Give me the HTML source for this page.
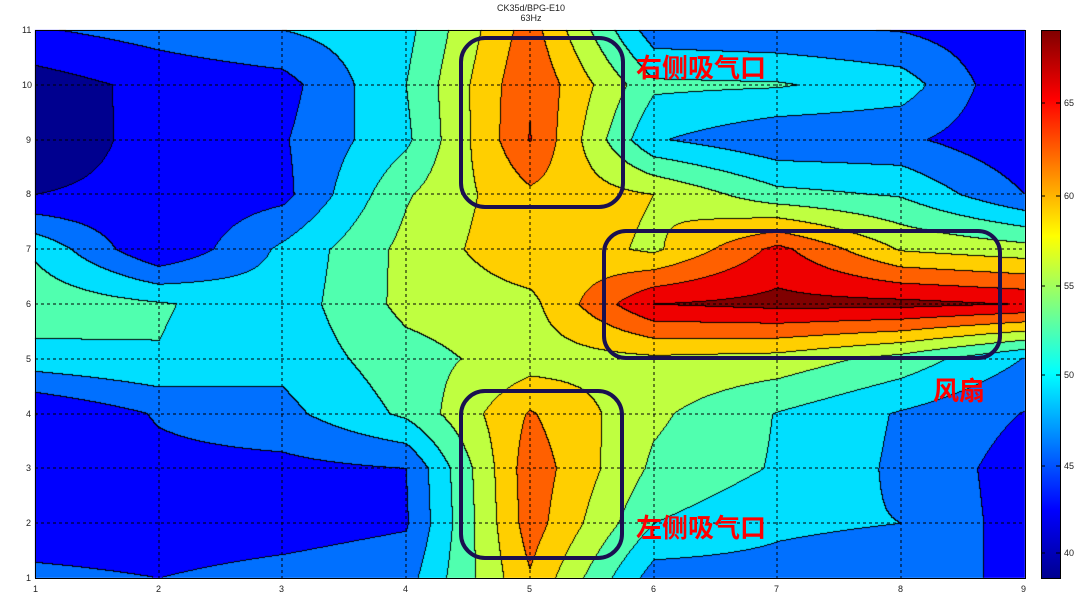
<!DOCTYPE html>
<html><head><meta charset="utf-8"><style>
body{margin:0;width:1088px;height:598px;background:#fff;position:relative;overflow:hidden;font-family:"Liberation Sans",sans-serif}
canvas{position:absolute;left:0;top:0}
.t{position:absolute;font-size:9px;color:#222}
.cn{position:absolute;color:#f00;font-family:"Liberation Sans","Noto Sans CJK SC",sans-serif;font-size:26px;font-weight:bold;letter-spacing:0px;line-height:1}
</style></head><body>
<canvas id="c" width="1088" height="598"></canvas>
<svg width="1088" height="598" style="position:absolute;left:0;top:0">
<g stroke="#000" stroke-width="1" stroke-dasharray="3,3">
<line x1="159" y1="30" x2="159" y2="578"/><line x1="282" y1="30" x2="282" y2="578"/><line x1="406" y1="30" x2="406" y2="578"/><line x1="530" y1="30" x2="530" y2="578"/><line x1="654" y1="30" x2="654" y2="578"/><line x1="777" y1="30" x2="777" y2="578"/><line x1="901" y1="30" x2="901" y2="578"/>
<line x1="35" y1="523" x2="1025" y2="523"/><line x1="35" y1="468" x2="1025" y2="468"/><line x1="35" y1="414" x2="1025" y2="414"/><line x1="35" y1="359" x2="1025" y2="359"/><line x1="35" y1="304" x2="1025" y2="304"/><line x1="35" y1="249" x2="1025" y2="249"/><line x1="35" y1="194" x2="1025" y2="194"/><line x1="35" y1="140" x2="1025" y2="140"/><line x1="35" y1="85" x2="1025" y2="85"/>
</g>
<rect x="35.5" y="30.5" width="990" height="548" fill="none" stroke="#000"/>
<g fill="none" stroke="#1a1050" stroke-width="4">
<rect x="461" y="38" width="162" height="169" rx="24"/>
<rect x="604" y="231" width="396" height="127" rx="22"/>
<rect x="461" y="391" width="161" height="167" rx="24"/>
</g>
<defs><linearGradient id="jet" x1="0" y1="0" x2="0" y2="1">
<stop offset="0" stop-color="#800000"/><stop offset="0.125" stop-color="#ff0000"/><stop offset="0.375" stop-color="#ffff00"/><stop offset="0.625" stop-color="#00ffff"/><stop offset="0.875" stop-color="#0000ff"/><stop offset="1" stop-color="#00008f"/></linearGradient></defs>
<rect x="1041.5" y="30.5" width="19" height="548" fill="url(#jet)" stroke="#000"/>
<g stroke="#000"><line x1="1041" y1="103" x2="1045" y2="103"/><line x1="1056" y1="103" x2="1060" y2="103"/><line x1="1041" y1="196" x2="1045" y2="196"/><line x1="1056" y1="196" x2="1060" y2="196"/><line x1="1041" y1="286" x2="1045" y2="286"/><line x1="1056" y1="286" x2="1060" y2="286"/><line x1="1041" y1="375" x2="1045" y2="375"/><line x1="1056" y1="375" x2="1060" y2="375"/><line x1="1041" y1="466" x2="1045" y2="466"/><line x1="1056" y1="466" x2="1060" y2="466"/><line x1="1041" y1="553" x2="1045" y2="553"/><line x1="1056" y1="553" x2="1060" y2="553"/></g>
</svg>
<div class="t" style="left:0;width:1088px;top:3px;text-align:center"><span style="position:relative;left:-13px">CK35d/BPG-E10</span></div>
<div class="t" style="left:0;width:1088px;top:13px;text-align:center"><span style="position:relative;left:-13px">63Hz</span></div>
<div class="t" style="left:22px;top:25px">11</div><div class="t" style="left:22px;top:80px">10</div><div class="t" style="left:26px;top:135px">9</div><div class="t" style="left:26px;top:189px">8</div><div class="t" style="left:26px;top:244px">7</div><div class="t" style="left:26px;top:299px">6</div><div class="t" style="left:26px;top:354px">5</div><div class="t" style="left:26px;top:409px">4</div><div class="t" style="left:26px;top:463px">3</div><div class="t" style="left:26px;top:518px">2</div><div class="t" style="left:26px;top:573px">1</div>
<div class="t" style="left:33px;top:584px">1</div><div class="t" style="left:156px;top:584px">2</div><div class="t" style="left:279px;top:584px">3</div><div class="t" style="left:403px;top:584px">4</div><div class="t" style="left:527px;top:584px">5</div><div class="t" style="left:651px;top:584px">6</div><div class="t" style="left:774px;top:584px">7</div><div class="t" style="left:898px;top:584px">8</div><div class="t" style="left:1021px;top:584px">9</div>
<div class="t" style="left:1064px;top:98px">65</div><div class="t" style="left:1064px;top:191px">60</div><div class="t" style="left:1064px;top:281px">55</div><div class="t" style="left:1064px;top:370px">50</div><div class="t" style="left:1064px;top:461px">45</div><div class="t" style="left:1064px;top:548px">40</div>
<div class="cn" style="left:636px;top:55px">右侧吸气口</div>
<div class="cn" style="left:933px;top:378px">风扇</div>
<div class="cn" style="left:636px;top:515px">左侧吸气口</div>
<script>
var G=[ // rows y=11 .. y=1, cols x=1..9
[1.9,2.4,3.0,3.7,7.5,2.4,2.2,1.95,1.2],
[0.5,1.3,1.6,4.0,7.9,4.2,4.1,3.5,1.0],
[0.3,1.4,1.9,3.8,8.05,3.1,2.2,2.2,1.2],
[1.0,1.3,1.7,4.9,6.8,6.0,4.3,3.9,2.0],
[3.8,1.05,3.2,5.3,6.8,5.8,8.3,5.9,5.4],
[4.7,4.1,3.4,5.3,5.7,9.0,9.3,9.3,8.95],
[3.6,3.95,3.3,4.6,5.5,5.8,5.6,4.6,2.95],
[0.98,2.1,2.7,4.2,7.1,5.2,3.95,2.9,1.95],
[1.5,1.7,1.7,2.0,7.6,4.8,3.9,2.8,1.5],
[1.5,1.5,1.6,1.9,7.5,4.0,3.2,3.0,1.5],
[2.2,2.0,2.3,2.6,6.9,2.5,2.6,2.2,1.9]];
var C=[[0,0,143],[0,0,255],[0,112,255],[0,223,255],[80,255,175],[191,255,64],[255,207,0],[255,96,0],[239,0,0],[128,0,0]];
var cv=document.getElementById('c'),ctx=cv.getContext('2d');
var X0=35,X1=1025,Y0=30,Y1=578,W=X1-X0,H=Y1-Y0;
var img=ctx.createImageData(W,H),band=new Int8Array(W*H);
for(var py=0;py<H;py++){var gy=py/H*10,j=Math.min(9,Math.floor(gy)),fy=gy-j;
for(var px=0;px<W;px++){var gx=px/W*8,i=Math.min(7,Math.floor(gx)),fx=gx-i;
var v=G[j][i]*(1-fx)*(1-fy)+G[j][i+1]*fx*(1-fy)+G[j+1][i]*(1-fx)*fy+G[j+1][i+1]*fx*fy;
var b=Math.max(0,Math.min(9,Math.floor(v)));band[py*W+px]=b;}}
for(var py=0;py<H;py++)for(var px=0;px<W;px++){var k=py*W+px,b=band[k],c=C[b];
var edge=(px<W-1&&band[k+1]!=b)||(py<H-1&&band[k+W]!=b);
var o=k*4;if(edge){img.data[o]=0;img.data[o+1]=0;img.data[o+2]=0;}else{img.data[o]=c[0];img.data[o+1]=c[1];img.data[o+2]=c[2];}img.data[o+3]=255;}
ctx.putImageData(img,X0,Y0);
</script>
</body></html>
